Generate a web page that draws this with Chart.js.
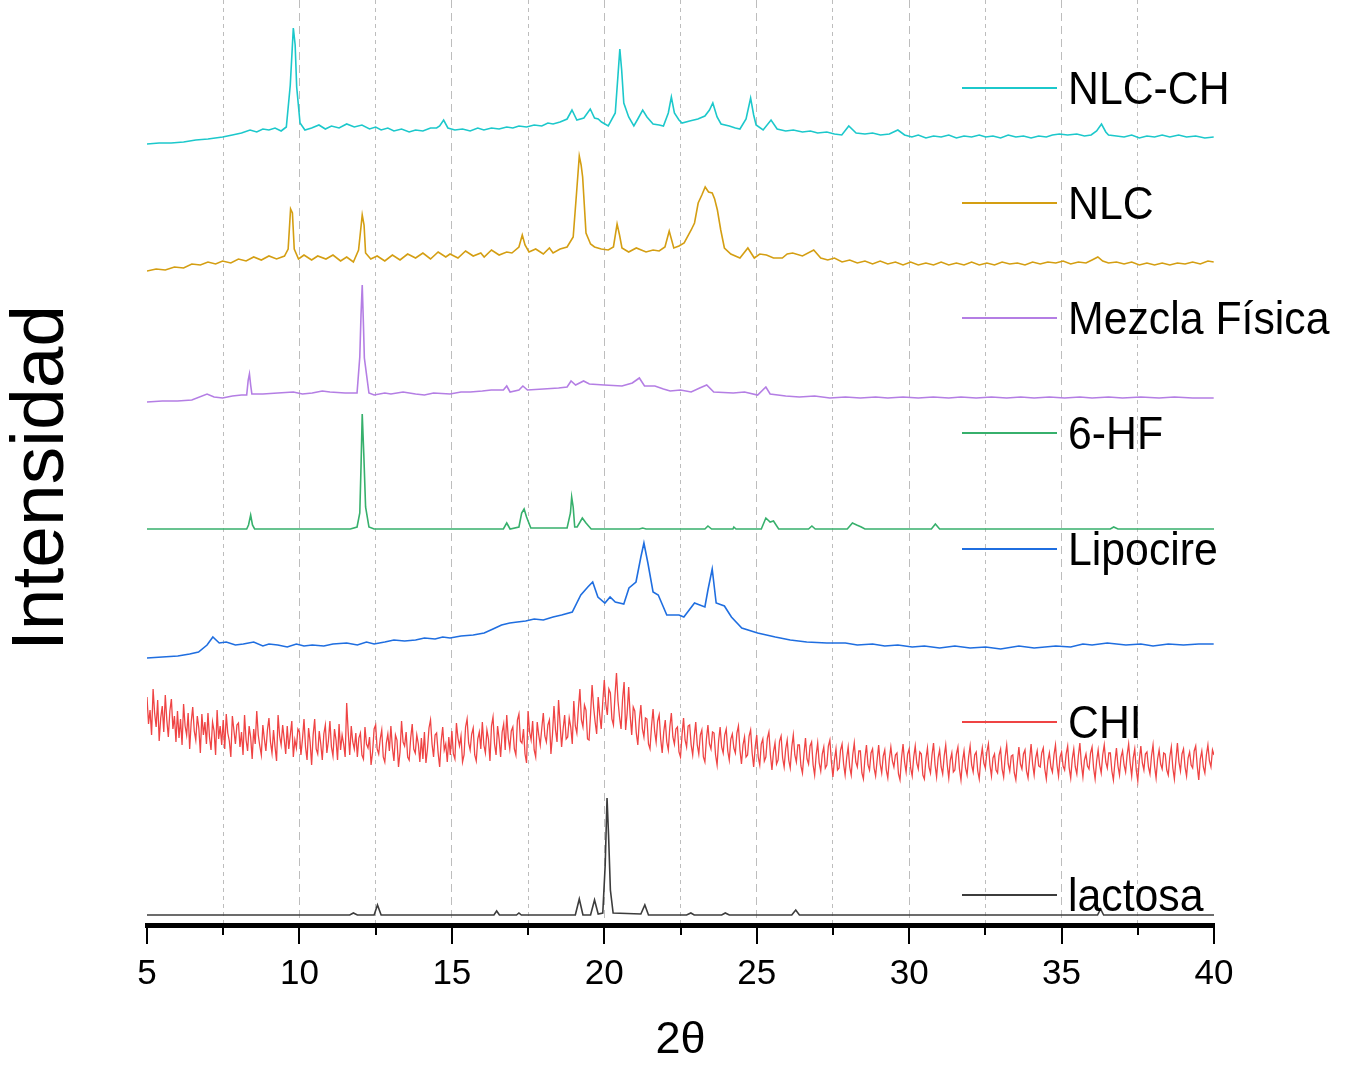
<!DOCTYPE html>
<html>
<head>
<meta charset="utf-8">
<script src="https://cdn.jsdelivr.net/npm/chart.js@4.4.1/dist/chart.umd.min.js"></script>
<style>
html, body { margin: 0; padding: 0; background: #fff; }
</style>
</head>
<body>
<canvas id="xrd" width="1349" height="1065"></canvas>
<script>
// 2-theta positions (deg) and intensities (a.u., stacked offsets as plotted)
const nlcChX = [5.00,5.40,5.79,6.20,6.60,7.00,7.48,7.80,8.10,8.38,8.60,8.80,9.00,9.20,9.40,9.57,9.70,9.80,9.86,9.91,10.02,10.18,10.40,10.64,10.85,11.05,11.30,11.55,11.80,12.05,12.30,12.50,12.68,12.90,13.10,13.35,13.60,13.81,14.05,14.30,14.50,14.60,14.73,14.87,15.10,15.35,15.60,15.85,16.05,16.30,16.55,16.80,17.00,17.20,17.45,17.70,17.95,18.15,18.32,18.55,18.78,18.94,19.10,19.33,19.54,19.68,19.80,19.91,20.13,20.36,20.45,20.51,20.57,20.64,20.80,20.97,21.10,21.26,21.40,21.60,21.80,21.94,22.10,22.20,22.30,22.45,22.55,22.80,23.07,23.30,23.45,23.56,23.70,23.83,24.10,24.30,24.45,24.65,24.80,24.90,24.98,25.21,25.47,25.67,25.95,26.20,26.50,26.76,27.00,27.30,27.55,27.79,28.02,28.26,28.55,28.80,29.06,29.35,29.63,29.85,30.09,30.30,30.55,30.80,31.05,31.30,31.55,31.80,32.05,32.30,32.51,32.75,33.00,33.25,33.50,33.75,34.00,34.25,34.50,34.70,34.93,35.20,35.50,35.75,35.97,36.15,36.31,36.45,36.54,36.80,37.05,37.30,37.55,37.80,38.05,38.30,38.55,38.84,39.10,39.40,39.70,39.99]
const nlcChY = [781,782,782,783,785,786,788,790,792,795,793,796,795,797,794,798,840,897,880,838,802,795,797,800,796,799,797,801,798,800,796,798,795,797,794,796,793,795,794,797,797,799,805,797,795,796,794,797,795,797,796,798,797,799,798,800,799,802,801,803,806,815,805,807,816,807,806,803,799,812,850,876,855,822,808,799,806,815,808,801,800,799,812,828,812,805,802,804,806,809,815,822,808,801,799,797,796,806,827,810,800,795,805,796,794,795,793,794,792,793,791,790,799,792,791,792,790,791,795,790,788,790,787,789,788,790,787,789,788,790,788,789,787,790,788,789,787,789,788,790,791,790,791,789,790,794,801,793,790,789,788,790,787,789,788,790,788,790,788,789,787,788]

const nlcX = [5.00,5.30,5.60,5.90,6.20,6.47,6.75,7.00,7.25,7.48,7.75,8.00,8.25,8.50,8.75,9.00,9.25,9.51,9.63,9.71,9.77,9.83,9.97,10.15,10.40,10.60,10.87,11.10,11.35,11.55,11.77,11.94,12.06,12.12,12.17,12.34,12.55,12.80,13.05,13.30,13.55,13.81,14.05,14.30,14.55,14.80,14.94,15.20,15.45,15.70,15.95,16.06,16.30,16.55,16.80,16.97,17.20,17.31,17.40,17.53,17.75,18.00,18.20,18.32,18.55,18.78,18.98,19.09,19.18,19.24,19.29,19.40,19.55,19.68,19.90,20.13,20.30,20.42,20.50,20.58,20.80,21.05,21.37,21.60,21.80,21.99,22.13,22.28,22.45,22.62,22.85,22.96,23.08,23.20,23.31,23.42,23.54,23.62,23.71,23.82,23.94,24.15,24.45,24.71,24.92,25.10,25.32,25.55,25.84,26.00,26.18,26.50,26.87,27.10,27.33,27.55,27.80,28.05,28.30,28.55,28.80,29.05,29.30,29.55,29.80,30.05,30.30,30.55,30.80,31.05,31.30,31.55,31.80,32.05,32.30,32.55,32.80,33.05,33.30,33.55,33.80,34.05,34.30,34.55,34.81,35.05,35.30,35.55,35.80,36.00,36.19,36.35,36.54,36.80,37.05,37.30,37.55,37.80,38.05,38.30,38.55,38.80,39.05,39.30,39.55,39.80,39.99]
const nlcY = [654,656,655,658,657,661,660,663,661,664,662,666,664,668,665,669,666,669,676,716,712,676,666,670,665,669,666,670,664,668,663,675,710,700,672,666,669,664,670,665,671,667,672,666,673,668,671,667,674,669,672,668,675,670,673,672,678,690,680,673,676,671,677,672,676,678,688,732,769,760,748,692,681,678,676,675,678,701,690,677,673,677,673,675,674,678,694,677,679,682,695,702,722,730,738,733,732,726,715,695,677,671,667,677,667,671,670,667,667,671,672,669,675,667,665,667,663,665,662,664,661,664,661,663,660,663,660,662,660,663,660,662,660,663,660,662,660,663,661,662,660,663,661,663,662,664,661,663,662,665,668,664,662,663,661,663,660,662,660,662,660,662,661,663,661,664,663]

const mezclaX = [5.00,5.50,6.00,6.47,6.97,7.20,7.48,7.80,8.10,8.27,8.32,8.36,8.40,8.44,8.80,9.29,9.80,10.10,10.42,10.75,11.00,11.50,11.89,11.98,12.02,12.06,12.10,12.13,12.28,12.45,12.80,13.00,13.40,13.81,14.10,14.40,14.94,15.30,15.60,16.00,16.29,16.69,16.80,16.91,17.20,17.33,17.48,18.00,18.50,18.78,18.91,19.06,19.32,19.51,20.00,20.58,20.92,21.15,21.32,21.66,21.94,22.16,22.50,22.85,23.13,23.36,23.59,24.23,24.60,25.03,25.30,25.44,25.95,26.40,26.90,27.40,27.91,28.40,28.90,29.30,29.80,30.30,30.79,31.30,31.70,32.20,32.70,33.20,33.66,34.10,34.60,35.10,35.60,36.00,36.54,37.00,37.60,38.20,38.70,39.30,39.99]
const mezclaY = [523,524,524,525,531,528,527,529,530,530,545,551,540,531,531,532,533,531,532,534,533,532,532,568,610,640,600,567,532,530,532,531,533,531,530,532,531,533,533,534,535,535,539,533,535,539,535,536,537,538,544,540,544,541,540,539,542,547,539,539,536,534,535,533,537,540,533,532,533,530,538,531,529,528,529,527,528,527,528,527,528,527,528,527,528,527,528,527,528,527,528,527,528,527,528,527,528,527,528,527,527]

const hfX = [5.00,8.27,8.33,8.40,8.46,8.53,11.67,11.89,11.98,12.02,12.06,12.11,12.17,12.28,12.45,16.69,16.80,16.91,17.20,17.29,17.37,17.45,17.59,18.78,18.89,18.93,18.98,19.03,19.11,19.28,19.40,19.57,21.15,21.26,21.37,23.30,23.40,23.52,24.22,24.25,24.32,25.15,25.30,25.44,25.55,25.72,26.70,26.81,26.92,27.97,28.14,28.28,28.43,28.55,30.73,30.86,31.00,36.60,36.71,36.85,40.00]
const hfY = [396,396,400,410,400,396,396,398,412,458,511,472,418,398,396,396,402,396,398,412,416,408,397,397,412,428,418,398,398,407,402,396,396,397,396,396,399,396,396,398,396,396,407,403,404,396,396,399,396,396,402,400,398,396,396,401,396,396,398,396,396]

const lipoX = [5.00,5.50,6.01,6.40,6.69,6.97,7.16,7.37,7.60,7.90,8.16,8.50,8.80,9.00,9.29,9.60,9.90,10.15,10.42,10.80,11.10,11.55,11.90,12.20,12.45,12.80,13.10,13.45,13.81,14.10,14.45,14.70,14.94,15.30,15.70,16.06,16.35,16.63,16.90,17.15,17.42,17.70,18.00,18.32,18.60,18.95,19.23,19.46,19.62,19.79,20.02,20.19,20.36,20.64,20.81,21.04,21.20,21.30,21.43,21.60,21.77,22.05,22.45,22.61,22.96,23.30,23.40,23.54,23.67,23.94,24.17,24.51,25.03,25.61,26.10,26.64,27.30,27.91,28.30,28.80,29.20,29.63,30.10,30.50,31.00,31.50,32.00,32.51,33.00,33.60,34.10,34.81,35.30,35.70,36.00,36.50,37.11,37.60,38.00,38.50,39.00,39.50,39.99]
const lipoY = [267,268,269,271,273,280,288,282,283,280,281,283,279,281,280,278,281,279,280,279,281,282,280,283,281,283,285,284,285,287,286,288,287,289,290,292,296,300,302,303,304,306,305,308,310,313,330,338,343,328,322,328,323,321,337,343,368,382,362,333,330,310,310,308,322,318,335,356,322,319,308,297,292,288,285,283,282,282,280,281,279,280,278,279,277,279,277,278,276,279,277,279,278,281,280,282,280,281,279,281,280,281,281]

// CHI: step scan from 5 deg, 0.05 deg per point (one row per degree)
const chiStart = 5
const chiStep = 0.05
const chiY = [
  228,201,215,190,236,212,198,225,184,207,219,193,230,205,188,214,226,196,209,183,
  214,187,206,180,221,199,190,212,176,203,218,194,185,209,197,172,211,190,203,181,
  212,188,175,203,194,170,215,186,199,180,205,176,211,192,184,168,209,195,181,200,
  202,178,193,170,210,185,174,199,188,166,196,181,214,190,179,170,200,186,174,195,
  207,183,172,195,178,164,210,189,180,200,186,171,199,176,190,204,168,185,177,196,
  193,170,186,206,178,165,197,183,160,190,206,176,171,194,181,165,191,200,172,184,
  204,178,169,196,185,165,201,175,190,181,168,222,193,170,199,183,176,192,168,187,
  192,170,166,198,181,177,188,160,173,196,200,176,171,186,195,168,163,182,191,174,
  199,177,164,190,185,158,173,204,183,179,193,168,165,187,201,176,172,190,181,163,
  187,166,193,162,176,197,205,181,168,190,192,172,158,184,198,175,181,163,188,170,
  194,171,166,202,187,179,189,163,170,198,206,182,175,191,197,170,164,186,193,176,
  203,180,172,195,186,164,199,208,181,170,199,186,168,193,201,175,210,187,176,194,
  198,176,170,205,211,184,182,196,171,162,214,193,185,204,175,168,203,190,180,197,
  212,189,183,200,205,171,190,219,195,183,225,201,178,196,210,186,188,207,198,181,
  224,199,192,216,236,205,198,220,215,186,185,211,240,218,203,191,228,210,196,223,
  245,221,210,236,232,206,200,229,252,224,208,196,226,243,195,212,238,209,190,218,
  214,192,180,205,220,196,188,207,206,181,176,199,216,194,183,204,210,186,172,193,
  205,183,175,198,212,188,181,196,198,173,168,190,207,185,178,199,200,180,170,188,
  203,180,171,190,195,168,163,186,200,181,176,193,192,170,160,184,198,178,172,190,
  196,174,165,186,191,177,172,192,199,175,161,180,188,168,170,189,195,172,158,178,
  190,168,160,181,186,164,168,187,193,170,155,173,182,161,165,184,189,167,158,176,
  185,165,157,178,190,170,163,180,180,159,152,171,187,166,161,179,183,160,150,170,
  182,162,154,171,178,157,160,179,185,163,148,165,176,155,157,175,181,161,150,167,
  178,158,150,170,182,163,158,174,174,152,146,167,180,160,155,172,176,157,149,165,
  180,161,152,169,175,155,147,166,178,164,158,170,172,151,145,167,181,163,153,171,
  176,157,149,168,179,162,156,173,171,150,146,166,177,158,152,170,182,160,148,167,
  175,158,151,169,180,160,147,165,172,153,155,171,178,156,145,164,174,157,150,168,
  179,160,153,170,173,154,146,166,177,162,157,173,181,160,149,167,171,155,152,170,
  176,156,148,168,180,161,154,169,170,152,145,163,178,161,156,171,175,154,147,165,
  181,161,150,167,174,159,158,172,177,156,146,164,172,158,153,170,180,160,149,168,
  173,159,155,171,179,157,147,166,176,158,151,169,182,161,148,165,171,159,156,172,
  178,157,146,164,175,160,152,170,180,163,157,172,172,154,145,163,177,159,150,168,
  174,160,153,170,181,162,149,167,176,155,144,165,179,162,155,171,173,158,151,169,
  180,159,147,166,175,161,156,172,171,155,150,168,178,157,146,165,182,163,154,171,
  176,158,149,167,173,160,157,174,179,159,145,166,174,158,152,170,180,164,158,175,
  170
]

const lactX = [5.00,11.65,11.77,11.90,12.45,12.56,12.68,16.38,16.47,16.56,17.12,17.20,17.28,19.05,19.18,19.30,19.55,19.68,19.80,19.95,20.03,20.09,20.14,20.20,20.29,21.20,21.33,21.45,22.70,22.84,22.95,23.85,23.97,24.10,26.15,26.28,26.40,36.18,36.28,36.38,40.00]
const lactY = [10,10,12,10,10,20,10,10,14,10,10,12,10,10,26,10,10,25,11,12,60,127,90,35,12,11,20,10,10,12,10,10,12,10,10,15,10,10,16,10,10]

const seriesNames = ['NLC-CH', 'NLC', 'Mezcla Física', '6-HF', 'Lipocire', 'CHI', 'lactosa']
const seriesColors = ['#1cc8cb', '#d49e12', '#b47ee4', '#37b06c', '#1f6ee0', '#ef4444', '#3c3c3c']
const xTicksMajor = [5, 10, 15, 20, 25, 30, 35, 40]

const chiX = chiY.map((_, i) => +(chiStart + i * chiStep).toFixed(2))
const toPoints = (xs, ys) => xs.map((x, i) => ({ x, y: ys[i] }))

const seriesPoints = [
    toPoints(nlcChX, nlcChY),
    toPoints(nlcX, nlcY),
    toPoints(mezclaX, mezclaY),
    toPoints(hfX, hfY),
    toPoints(lipoX, lipoY),
    toPoints(chiX, chiY),
    toPoints(lactX, lactY)
]

// legend rows sit beside each trace (pixel centres)
const legendRows = [88, 203, 318, 433, 549, 722, 895]
const FONT = '"Liberation Sans", Arial, sans-serif'

const overlay = {
    id: 'overlay',
    afterDraw(chart) {
        const { ctx, chartArea, scales: { x } } = chart
        ctx.save()

        // tick marks, long on majors
        ctx.strokeStyle = '#000'
        ctx.lineWidth = 2
        x.ticks.forEach(t => {
            const px = Math.round(x.getPixelForValue(t.value))
            const len = xTicksMajor.includes(t.value) ? 19 : 10
            ctx.beginPath()
            ctx.moveTo(px, chartArea.bottom)
            ctx.lineTo(px, chartArea.bottom + len)
            ctx.stroke()
        })

        // legend
        ctx.font = '46px ' + FONT
        ctx.textBaseline = 'alphabetic'
        seriesNames.forEach((name, i) => {
            const y = legendRows[i]
            ctx.strokeStyle = seriesColors[i]
            ctx.lineWidth = 2
            ctx.beginPath()
            ctx.moveTo(962, y)
            ctx.lineTo(1057, y)
            ctx.stroke()
            ctx.save()
            ctx.translate(1068, y + 16)
            ctx.scale(0.93, 1)
            ctx.fillStyle = '#000'
            ctx.fillText(name, 0, 0)
            ctx.restore()
        })

        // y title
        ctx.translate(42, 478)
        ctx.rotate(-Math.PI / 2)
        ctx.font = '75px ' + FONT
        ctx.textAlign = 'center'
        ctx.textBaseline = 'middle'
        ctx.fillStyle = '#000'
        ctx.fillText('Intensidad', 0, 0)
        ctx.restore()
    }
}

new Chart(document.getElementById('xrd').getContext('2d'), {
    type: 'line',
    data: {
        datasets: seriesPoints.map((pts, i) => ({
            label: seriesNames[i],
            data: pts,
            borderColor: seriesColors[i],
            borderWidth: i === 5 ? 1.3 : 1.6,
            pointRadius: 0,
            tension: 0,
            fill: false
        }))
    },
    options: {
        responsive: false,
        animation: false,
        layout: { padding: { left: 147, right: 135, top: 0, bottom: 0 } },
        plugins: { legend: { display: false }, tooltip: { enabled: false } },
        scales: {
            x: {
                type: 'linear',
                min: 5,
                max: 40,
                afterFit: s => { s.height = 140 },
                ticks: {
                    stepSize: 2.5,
                    autoSkip: false,
                    maxRotation: 0,
                    padding: 28,
                    color: '#000',
                    font: { family: FONT, size: 35 },
                    callback: v => xTicksMajor.includes(v) ? String(v) : ''
                },
                grid: {
                    drawTicks: false,
                    lineWidth: 1,
                    color: c => (c.tick && (c.tick.value === 5 || c.tick.value === 40)) ? 'rgba(0,0,0,0)' : '#bdbdbd'
                },
                border: {
                    display: true,
                    color: '#000',
                    width: 5,
                    dash: c => (c.tick && xTicksMajor.includes(c.tick.value)) ? [8, 5] : [4, 4]
                },
                title: {
                    display: true,
                    text: '2θ',
                    color: '#000',
                    font: { family: FONT, size: 45 },
                    padding: { top: 0, bottom: -3 }
                }
            },
            y: { display: false, min: 0, max: 925 }
        }
    },
    plugins: [overlay]
})
</script>
</body>
</html>
